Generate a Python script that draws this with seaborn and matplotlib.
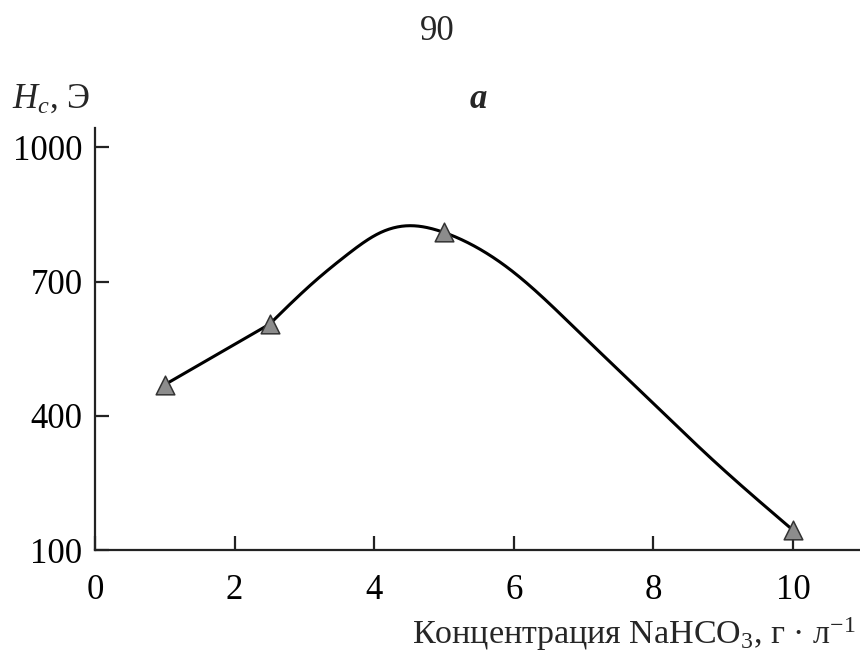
import numpy as np
import pandas as pd
import matplotlib
matplotlib.use("Agg")
import matplotlib.pyplot as plt
import seaborn as sns

# Measured coercive force vs NaHCO3 concentration
conc = [1.0, 2.5, 5.0, 10.0]
hc = [470, 605, 810, 145]

# Knots of the smooth trend curve: a straight run between the first two
# measurements, then a smooth arc through the rest
curve_x = [2.5, 3.12, 3.61, 4.08, 4.48, 5.0, 5.99, 6.95, 7.9, 8.85, 10.0]
curve_y = [605, 697, 760, 809, 825, 810, 722, 585, 443, 302, 145]

x_ticks = [0, 2, 4, 6, 8, 10]
y_ticks = [100, 400, 700, 1000]


def natural_spline(xk, yk, xs):
    """Natural cubic spline through the knots, evaluated at xs."""
    xk = np.asarray(xk, float)
    yk = np.asarray(yk, float)
    n = len(xk)
    h = np.diff(xk)
    A = np.zeros((n, n))
    b = np.zeros(n)
    A[0, 0] = A[-1, -1] = 1.0
    for i in range(1, n - 1):
        A[i, i - 1] = h[i - 1]
        A[i, i] = 2 * (h[i - 1] + h[i])
        A[i, i + 1] = h[i]
        b[i] = 6 * ((yk[i + 1] - yk[i]) / h[i] - (yk[i] - yk[i - 1]) / h[i - 1])
    M = np.linalg.solve(A, b)
    idx = np.clip(np.searchsorted(xk, xs) - 1, 0, n - 2)
    x0, x1 = xk[idx], xk[idx + 1]
    hh = h[idx]
    return (M[idx] * (x1 - xs) ** 3 / (6 * hh)
            + M[idx + 1] * (xs - x0) ** 3 / (6 * hh)
            + (yk[idx] / hh - M[idx] * hh / 6) * (x1 - xs)
            + (yk[idx + 1] / hh - M[idx + 1] * hh / 6) * (xs - x0))


sns.set_theme(style="ticks")
plt.rcParams["font.family"] = ["Liberation Serif", "DejaVu Serif"]
plt.rcParams["mathtext.fontset"] = "custom"
plt.rcParams["mathtext.rm"] = "Liberation Serif"
plt.rcParams["mathtext.it"] = "Liberation Serif:italic"
plt.rcParams["mathtext.bf"] = "Liberation Serif:bold"

FS = 25
W, H = 860, 654
fig = plt.figure(figsize=(W / 100, H / 100), dpi=100)
ax = fig.add_axes([95 / W, (H - 550.3) / H, 765 / W, (550.3 - 128) / H])

xs = np.linspace(curve_x[0], curve_x[-1], 500)
trend = pd.DataFrame({
    "x": np.concatenate([[conc[0]], xs]),
    "y": np.concatenate([[hc[0]], natural_spline(curve_x, curve_y, xs)]),
})
sns.lineplot(data=trend, x="x", y="y", ax=ax, color="black", linewidth=2.2,
             sort=False, estimator=None)

pts = pd.DataFrame({"conc": conc, "hc": hc})
sns.scatterplot(data=pts, x="conc", y="hc", ax=ax, marker="^", s=180,
                color="#8c8c8c", edgecolor="#333333", linewidth=1.1, zorder=3,
                clip_on=False)

ax.set_xlim(0, 765 / 69.8)
ax.set_ylim(100, 100 + (550.3 - 128) * 300 / 134.3)
ax.set_xticks(x_ticks)
ax.set_yticks(y_ticks)
ax.set_xlabel("")
ax.set_ylabel("")

for side in ("top", "right"):
    ax.spines[side].set_visible(False)
for side in ("left", "bottom"):
    ax.spines[side].set_linewidth(1.6)
    ax.spines[side].set_color("#222222")

ax.tick_params(axis="both", direction="in", length=10, width=1.6,
               color="#222222", labelsize=FS, labelcolor="black")
ax.tick_params(axis="x", pad=17)
ax.tick_params(axis="y", pad=9)

# Page number, axis titles and panel letter
fig.text(437 / W, 1 - 40 / H, "90", ha="center", va="baseline", fontsize=FS)
fig.text(12 / W, 1 - 108 / H, "$H_c$, Э", ha="left", va="baseline",
         fontsize=FS)
fig.text(478 / W, 1 - 108 / H, "а", ha="center", va="baseline",
         fontsize=FS, style="italic", weight="bold")
fig.text(856 / W, 1 - 644 / H, "Концентрация NaHCO$_3$, г · л$^{-1}$",
         ha="right", va="baseline", fontsize=24.5)

fig.savefig("out.png", dpi=100, facecolor="white")
